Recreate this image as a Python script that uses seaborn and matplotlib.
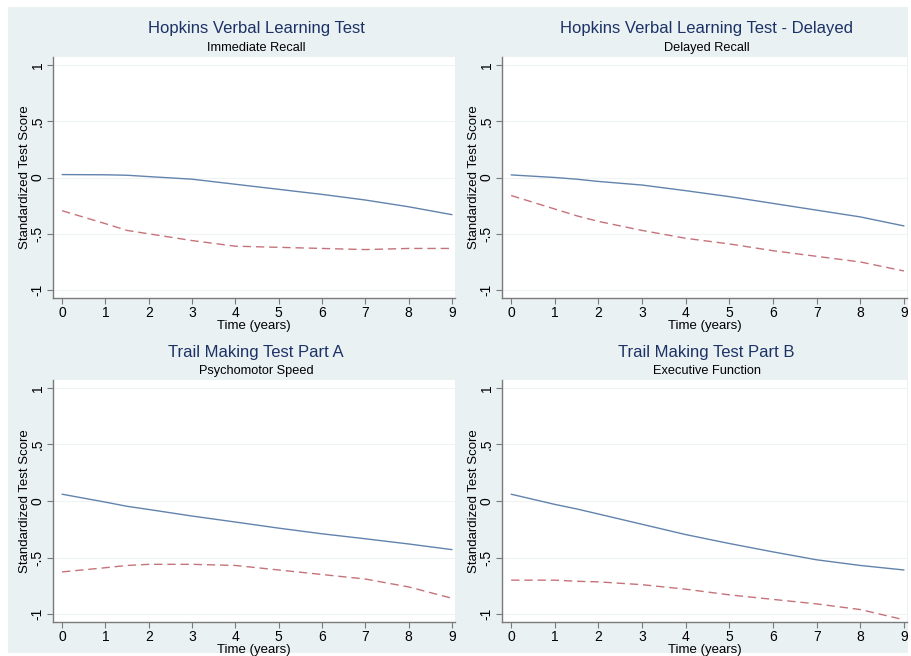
import seaborn as sns
import matplotlib.pyplot as plt
import matplotlib.patches as mpatches
import pandas as pd

# time points (years)
years = [0, 1, 1.5, 2, 3, 4, 5, 6, 7, 8, 9]

# Hopkins Verbal Learning Test - immediate recall
hvlt_imm_solid = [0.026, 0.024, 0.02, 0.008, -0.015, -0.06, -0.105, -0.15, -0.2, -0.26, -0.33]
hvlt_imm_dash = [-0.295, -0.41, -0.47, -0.5, -0.56, -0.61, -0.62, -0.63, -0.64, -0.63, -0.63]

# Hopkins Verbal Learning Test - delayed recall
hvlt_del_solid = [0.023, 0.0, -0.015, -0.035, -0.067, -0.117, -0.17, -0.23, -0.29, -0.35, -0.43]
hvlt_del_dash = [-0.16, -0.28, -0.34, -0.39, -0.47, -0.54, -0.59, -0.65, -0.70, -0.75, -0.83]

# Trail Making Test Part A
tmt_a_solid = [0.06, -0.01, -0.047, -0.075, -0.133, -0.186, -0.24, -0.29, -0.334, -0.38, -0.43]
tmt_a_dash = [-0.627, -0.59, -0.57, -0.56, -0.56, -0.57, -0.61, -0.65, -0.69, -0.76, -0.86]

# Trail Making Test Part B
tmt_b_solid = [0.06, -0.03, -0.07, -0.115, -0.206, -0.297, -0.376, -0.45, -0.52, -0.57, -0.61]
tmt_b_dash = [-0.70, -0.70, -0.71, -0.715, -0.74, -0.78, -0.83, -0.87, -0.91, -0.96, -1.05]

titles = ["Hopkins Verbal Learning Test", "Hopkins Verbal Learning Test - Delayed",
          "Trail Making Test Part A", "Trail Making Test Part B"]
subtitles = ["Immediate Recall", "Delayed Recall", "Psychomotor Speed", "Executive Function"]
panels = [(hvlt_imm_solid, hvlt_imm_dash), (hvlt_del_solid, hvlt_del_dash),
          (tmt_a_solid, tmt_a_dash), (tmt_b_solid, tmt_b_dash)]

y_ticks = [-1, -0.5, 0, 0.5, 1]
y_ticklabels = ["-1", "-.5", "0", ".5", "1"]
x_ticks = list(range(10))

sns.set_theme(style="white")
plt.rcParams['font.family'] = ['Liberation Sans', 'DejaVu Sans']

W, H = 911, 656
fig = plt.figure(figsize=(W / 100, H / 100), dpi=100, facecolor='white')

# Stata-like light bluish gray graph region
fig.patches.append(mpatches.Rectangle((8 / W, 1 - 653 / H), 900 / W, 646 / H,
                                      transform=fig.transFigure, facecolor='#eaf1f3',
                                      edgecolor='none', zorder=-10))

# axes boxes in pixels: left, top, right, bottom
boxes = [(53, 57, 455, 298), (502, 57, 907, 298), (53, 380, 455, 622), (502, 380, 907, 622)]

solid_color = '#6283ad'
dash_color = '#c5737a'
spine_color = '#7a7a7a'

for (l, t, r, b), (solid, dash), title, sub in zip(boxes, panels, titles, subtitles):
    ax = fig.add_axes([l / W, 1 - b / H, (r - l) / W, (b - t) / H])
    ax.set_facecolor('white')
    df = pd.DataFrame({'years': years, 'solid': solid, 'dash': dash})

    for yv in y_ticks:
        ax.axhline(yv, color='#eef3f4', lw=0.8, zorder=0)

    sns.lineplot(data=df, x='years', y='solid', ax=ax, color=solid_color, lw=1.0)
    sns.lineplot(data=df, x='years', y='dash', ax=ax, color=dash_color, lw=1.0,
                 linestyle=(0, (6, 3.5)))

    ax.set_xlim(-0.21, 9.07)
    ax.set_ylim(-1.07, 1.07)
    ax.set_xticks(x_ticks)
    ax.set_yticks(y_ticks)
    ax.set_yticklabels(y_ticklabels, rotation=90, va='center')

    for side in ['top', 'right']:
        ax.spines[side].set_visible(False)
    for side in ['left', 'bottom']:
        ax.spines[side].set_color(spine_color)
        ax.spines[side].set_linewidth(1.0)
    ax.tick_params(axis='both', direction='out', length=4, width=0.8, color=spine_color,
                   labelsize=10, labelcolor='black', pad=2, bottom=True, left=True)

    ax.set_xlabel('Time (years)', fontsize=9.5, labelpad=0, color='black')
    ax.set_ylabel('Standardized Test Score', fontsize=9.5, labelpad=0, color='black')

    cx = (l + r) / 2 / W + 2 / W
    fig.text(cx, 1 - (t - 28) / H, title, ha='center', va='center',
             fontsize=12, color='#1c3266')
    fig.text(cx, 1 - (t - 9) / H, sub, ha='center', va='center',
             fontsize=9.2, color='black')

fig.savefig('out.png', dpi=100, facecolor='white')
